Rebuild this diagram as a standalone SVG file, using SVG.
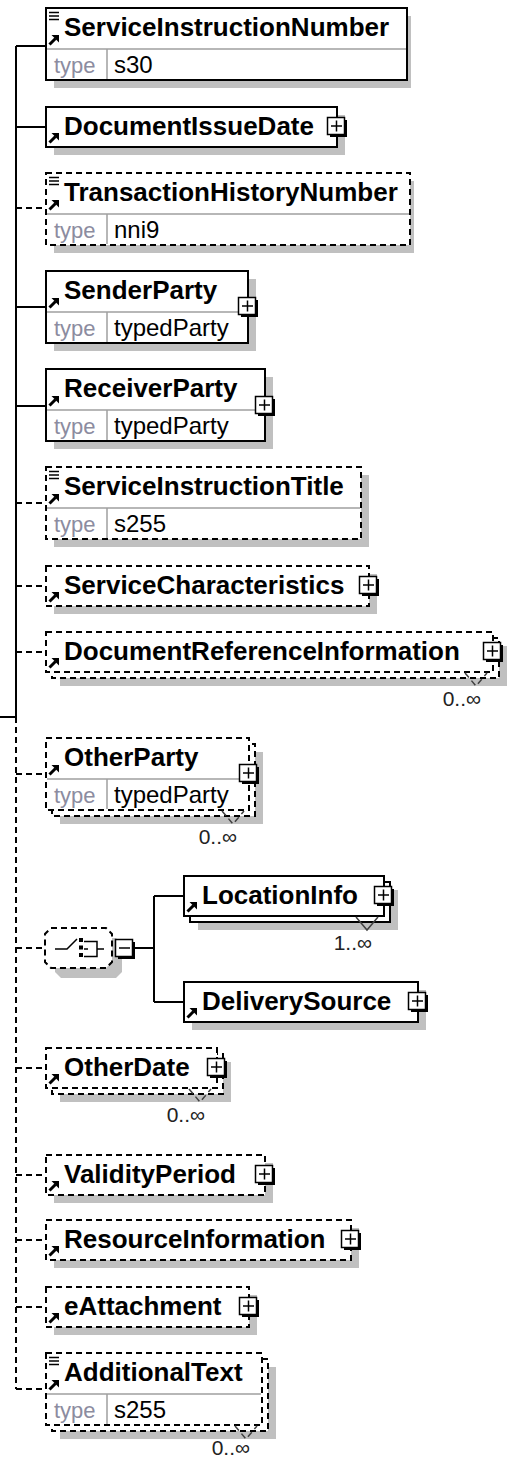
<svg xmlns="http://www.w3.org/2000/svg" xmlns:xlink="http://www.w3.org/1999/xlink" width="509" height="1458" viewBox="0 0 509 1458">
<style>
.box{fill:#fff;stroke:#000;stroke-width:2}
.opt{stroke-dasharray:6 4}
.sh{fill:#c0c0c0}
.dv{stroke:#a0a0a0;stroke-width:1.5;fill:none}
.name{font-family:"Liberation Sans",Arial,sans-serif;font-weight:bold;font-size:26px;fill:#000}
.tl{font-family:"Liberation Sans",Arial,sans-serif;font-size:22px;fill:#8c8ca0}
.tv{font-family:"Liberation Sans",Arial,sans-serif;font-size:24px;fill:#000}
.mult{font-family:"Liberation Sans",Arial,sans-serif;font-size:21px;fill:#222;text-anchor:end}
.c{stroke:#000;stroke-width:2;fill:none}
.cd{stroke-dasharray:6 4}
.v{stroke:#404040;stroke-width:1.5;fill:none}
.ic{stroke:#000;stroke-width:1.5;fill:none}
</style>
<defs>
<g id="arr"><path d="M1.5,-1.5 L7.5,-7.5" stroke="#000" stroke-width="3"/><path d="M3.5,-11 L11,-11 L11,-3.5 Z" fill="#000"/></g>
<g id="doc"><path d="M0,0 H10 M0,3.5 H10 M0,7 H10" stroke="#000" stroke-width="1.3"/></g>
<g id="plus"><rect x="-7" y="-7" width="17" height="17" fill="#000"/><rect x="-9.5" y="-9.5" width="17" height="17" fill="#fff" stroke="#000" stroke-width="1.5"/><path d="M-6,-1 H5 M-0.5,-6.5 V4.5" stroke="#000" stroke-width="1.5"/></g>
<g id="minus"><rect x="-7" y="-7" width="17" height="17" fill="#000"/><rect x="-9.5" y="-9.5" width="17" height="17" fill="#fff" stroke="#000" stroke-width="1.5"/><path d="M-6,-1 H5" stroke="#000" stroke-width="1.5"/></g>
</defs>

<g id="connectors">
<path class="c" d="M0,717 H16 M16,46 V717"/>
<path class="c cd" d="M16,717 V1389"/>
<path class="c" d="M16,46 H46 M16,127 H46 M16,307 H46 M16,406 H46"/>
<path class="c cd" d="M16,208 H46 M16,503 H46 M16,586 H46 M16,652 H46 M16,774 H46 M16,948 H45 M16,1068 H46 M16,1175 H46 M16,1240 H46 M16,1307 H46 M16,1389 H46"/>
<path class="c" d="M135,948 H154 M154,896 V1002 M154,896 H184 M154,1002 H184"/>
</g>

<g id="n-ServiceInstructionNumber">
<rect class="sh" x="54" y="16" width="357" height="72"/>
<rect class="box" x="46" y="8" width="361" height="72"/>
<path class="dv" d="M47,49 H406 M107,49 V79"/>
<use xlink:href="#doc" x="49" y="12.5"/>
<use xlink:href="#arr" x="48" y="46"/>
<text class="name" x="64" y="36">ServiceInstructionNumber</text>
<text class="tl" x="54" y="73">type</text>
<text class="tv" x="114" y="73">s30</text>
</g>

<g id="n-DocumentIssueDate">
<rect class="sh" x="54" y="115" width="291" height="40"/>
<rect class="box" x="46" y="107" width="291" height="40"/>
<use xlink:href="#arr" x="48" y="144"/>
<text class="name" x="64" y="135">DocumentIssueDate</text>
<use xlink:href="#plus" x="337" y="127"/>
</g>

<g id="n-TransactionHistoryNumber">
<rect class="sh" x="54" y="181" width="360" height="72"/>
<rect class="box opt" x="46" y="173" width="364" height="72"/>
<path class="dv" d="M47,214 H409 M107,214 V244"/>
<use xlink:href="#doc" x="49" y="177.5"/>
<use xlink:href="#arr" x="48" y="211"/>
<text class="name" x="64" y="201">TransactionHistoryNumber</text>
<text class="tl" x="54" y="238">type</text>
<text class="tv" x="114" y="238">nni9</text>
</g>

<g id="n-SenderParty">
<rect class="sh" x="54" y="279" width="202" height="72"/>
<rect class="box" x="46" y="271" width="202" height="72"/>
<path class="dv" d="M47,312 H247 M107,312 V342"/>
<use xlink:href="#arr" x="48" y="309"/>
<text class="name" x="64" y="299">SenderParty</text>
<text class="tl" x="54" y="336">type</text>
<text class="tv" x="114" y="336">typedParty</text>
<use xlink:href="#plus" x="248" y="307"/>
</g>

<g id="n-ReceiverParty">
<rect class="sh" x="54" y="377" width="219" height="72"/>
<rect class="box" x="46" y="369" width="219" height="72"/>
<path class="dv" d="M47,410 H264 M107,410 V440"/>
<use xlink:href="#arr" x="48" y="407"/>
<text class="name" x="64" y="397">ReceiverParty</text>
<text class="tl" x="54" y="434">type</text>
<text class="tv" x="114" y="434">typedParty</text>
<use xlink:href="#plus" x="265" y="406"/>
</g>

<g id="n-ServiceInstructionTitle">
<rect class="sh" x="54" y="475" width="315" height="72"/>
<rect class="box opt" x="46" y="467" width="315" height="72"/>
<path class="dv" d="M47,508 H360 M107,508 V538"/>
<use xlink:href="#doc" x="49" y="471.5"/>
<use xlink:href="#arr" x="48" y="505"/>
<text class="name" x="64" y="495">ServiceInstructionTitle</text>
<text class="tl" x="54" y="532">type</text>
<text class="tv" x="114" y="532">s255</text>
</g>

<g id="n-ServiceCharacteristics">
<rect class="sh" x="54" y="574" width="323" height="40"/>
<rect class="box opt" x="46" y="566" width="323" height="40"/>
<use xlink:href="#arr" x="48" y="603"/>
<text class="name" x="64" y="594">ServiceCharacteristics</text>
<use xlink:href="#plus" x="369" y="586"/>
</g>

<g id="n-DocumentReferenceInformation">
<rect class="sh" x="60" y="646" width="447" height="40"/>
<rect class="box opt" x="52" y="638" width="447" height="40"/>
<rect class="box opt" x="46" y="632" width="447" height="40"/>
<use xlink:href="#arr" x="48" y="669"/>
<text class="name" x="64" y="660">DocumentReferenceInformation</text>
<use xlink:href="#plus" x="493" y="652"/>
<path class="v opt" d="M465,673 L476,686 L487,673"/>
<text class="mult" x="481" y="706">0..∞</text>
</g>

<g id="n-OtherParty">
<rect class="sh" x="60" y="752" width="203" height="72"/>
<rect class="box opt" x="52" y="744" width="203" height="72"/>
<rect class="box opt" x="46" y="738" width="203" height="72"/>
<path class="dv" d="M47,779 H248 M107,779 V809"/>
<use xlink:href="#arr" x="48" y="776"/>
<text class="name" x="64" y="766">OtherParty</text>
<text class="tl" x="54" y="803">type</text>
<text class="tv" x="114" y="803">typedParty</text>
<use xlink:href="#plus" x="249" y="774"/>
<path class="v opt" d="M222,811 L233,824 L244,811"/>
<text class="mult" x="237" y="844">0..∞</text>
</g>

<g id="n-choice">
<path class="sh" d="M61,938 H116 L122,944 V972 L116,978 H61 L55,972 V944 Z"/>
<path class="box opt" d="M51,928 H106 L112,934 V962 L106,968 H51 L45,962 V934 Z"/>
<path class="ic" d="M55,949 H67 L77,939"/>
<rect x="79" y="938" width="4" height="4" fill="#000"/>
<rect x="79" y="945.5" width="4" height="4" fill="#000"/>
<rect x="79" y="953" width="4" height="4" fill="#000"/>
<path class="ic" d="M84,941.5 H97 V956.5 H84 M84,949 H88 M97,949 H104"/>
<use xlink:href="#minus" x="125" y="949"/>
</g>

<g id="n-LocationInfo">
<rect class="sh" x="198" y="890" width="200" height="40"/>
<rect class="box" x="190" y="882" width="200" height="40"/>
<rect class="box" x="184" y="876" width="200" height="40"/>
<use xlink:href="#arr" x="186" y="913"/>
<text class="name" x="202" y="904">LocationInfo</text>
<use xlink:href="#plus" x="384" y="896"/>
<path class="v" d="M356,917 L367,930 L378,917"/>
<text class="mult" x="372" y="950">1..∞</text>
</g>

<g id="n-DeliverySource">
<rect class="sh" x="192" y="990" width="234" height="40"/>
<rect class="box" x="184" y="982" width="234" height="40"/>
<use xlink:href="#arr" x="186" y="1019"/>
<text class="name" x="202" y="1010">DeliverySource</text>
<use xlink:href="#plus" x="418" y="1002"/>
</g>

<g id="n-OtherDate">
<rect class="sh" x="60" y="1062" width="171" height="40"/>
<rect class="box opt" x="52" y="1054" width="171" height="40"/>
<rect class="box opt" x="46" y="1048" width="171" height="40"/>
<use xlink:href="#arr" x="48" y="1085"/>
<text class="name" x="64" y="1076">OtherDate</text>
<use xlink:href="#plus" x="217" y="1068"/>
<path class="v opt" d="M189,1089 L200,1102 L211,1089"/>
<text class="mult" x="205" y="1122">0..∞</text>
</g>

<g id="n-ValidityPeriod">
<rect class="sh" x="54" y="1163" width="219" height="40"/>
<rect class="box opt" x="46" y="1155" width="219" height="40"/>
<use xlink:href="#arr" x="48" y="1192"/>
<text class="name" x="64" y="1183">ValidityPeriod</text>
<use xlink:href="#plus" x="265" y="1175"/>
</g>

<g id="n-ResourceInformation">
<rect class="sh" x="54" y="1228" width="305" height="40"/>
<rect class="box opt" x="46" y="1220" width="305" height="40"/>
<use xlink:href="#arr" x="48" y="1257"/>
<text class="name" x="64" y="1248">ResourceInformation</text>
<use xlink:href="#plus" x="351" y="1240"/>
</g>

<g id="n-eAttachment">
<rect class="sh" x="54" y="1295" width="203" height="40"/>
<rect class="box opt" x="46" y="1287" width="203" height="40"/>
<use xlink:href="#arr" x="48" y="1324"/>
<text class="name" x="64" y="1315">eAttachment</text>
<use xlink:href="#plus" x="249" y="1307"/>
</g>

<g id="n-AdditionalText">
<rect class="sh" x="60" y="1367" width="216" height="72"/>
<rect class="box opt" x="52" y="1359" width="216" height="72"/>
<rect class="box opt" x="46" y="1353" width="216" height="72"/>
<path class="dv" d="M47,1394 H261 M107,1394 V1424"/>
<use xlink:href="#doc" x="49" y="1357.5"/>
<use xlink:href="#arr" x="48" y="1391"/>
<text class="name" x="64" y="1381">AdditionalText</text>
<text class="tl" x="54" y="1418">type</text>
<text class="tv" x="114" y="1418">s255</text>
<path class="v opt" d="M235,1426 L246,1439 L257,1426"/>
<text class="mult" x="250" y="1455" font-size="19">0..∞</text>
</g>
</svg>
